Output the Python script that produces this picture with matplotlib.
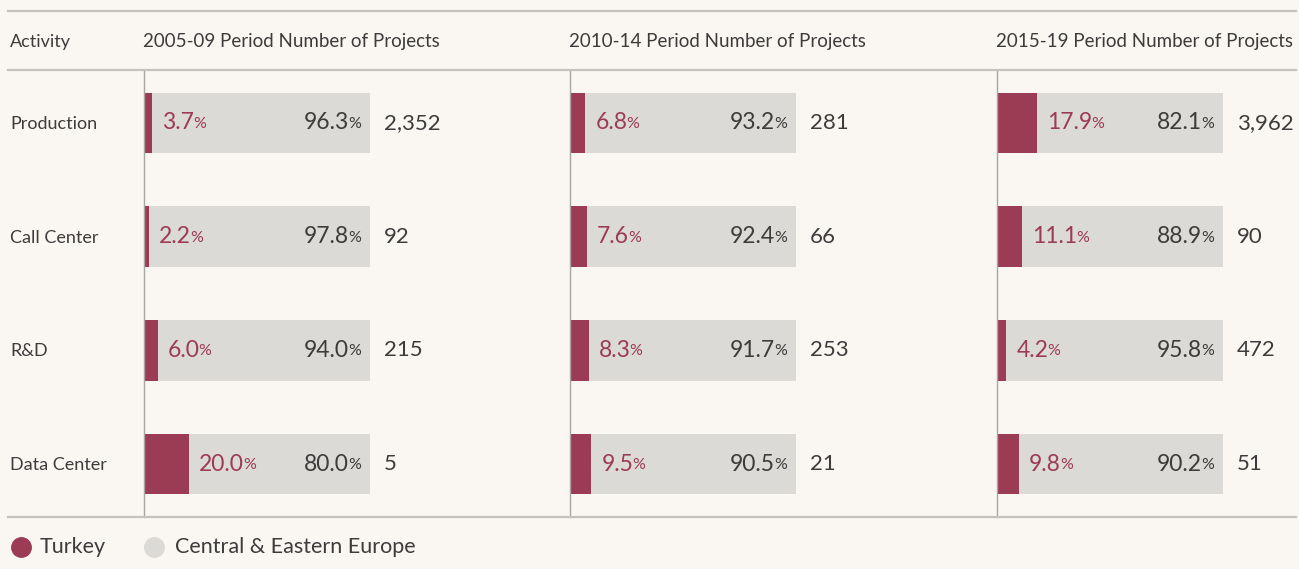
import matplotlib.pyplot as plt
from matplotlib.lines import Line2D

# 데이터
activities = ['Production', 'Call Center', 'R&D', 'Data Center']
periods = ['2005-09', '2010-14', '2015-19']
turkey_pct = [
    [3.7, 2.2, 6.0, 20.0],
    [6.8, 7.6, 8.3, 9.5],
    [17.9, 11.1, 4.2, 9.8],
]
projects = [
    ['2,352', '92', '215', '5'],
    ['281', '66', '253', '21'],
    ['3,962', '90', '472', '51'],
]

bg = '#FAF6F1'
red = '#9C3B54'
grey = '#DBDAD6'
dark = '#3C3C3C'
plt.rcParams['font.family'] = ['Lato', 'DejaVu Sans']

W, H = 1299, 569
fig = plt.figure(figsize=(W / 100, H / 100), dpi=100, facecolor=bg)
renderer = fig.canvas.get_renderer()


def px(x0, y0, w, h):
    return [x0 / W, 1 - (y0 + h) / H, w / W, h / H]


# 가로선
for y in [11, 70, 517]:
    fig.add_artist(Line2D([8 / W, 1296 / W], [1 - y / H, 1 - y / H],
                          color='#C4C2BE', lw=1.6, transform=fig.transFigure))

fig.text(10 / W, 1 - 42 / H, 'Activity', fontsize=13, color=dark, va='center')
for i, a in enumerate(activities):
    fig.text(10 / W, 1 - (124 + i * 113.7) / H, a, fontsize=13, color=dark, va='center')

pct_fs = 16.5
small_fs = 11.5
tmp = fig.text(0, 0, '%', fontsize=small_fs)
w_pct = tmp.get_window_extent(renderer=renderer).width
tmp.remove()

panel_x = [143, 569, 996]
for p in range(3):
    ax = fig.add_axes(px(panel_x[p] + 1, 70, 226, 447))
    ax.set_facecolor('none')
    fig.text(panel_x[p] / W, 1 - 42 / H, periods[p] + ' Period Number of Projects',
             fontsize=13.5, color=dark, va='center')
    ys = list(range(len(activities)))
    tk = turkey_pct[p]
    cee = [round(100 - v, 1) for v in tk]
    ax.barh(ys, tk, height=0.536, color=red)
    ax.barh(ys, cee, left=tk, height=0.536, color=grey)
    ax.set_xlim(0, 100)
    ax.set_ylim(3.466, -0.466)
    for s in ['top', 'right', 'bottom']:
        ax.spines[s].set_visible(False)
    ax.spines['left'].set_color('#A8A6A2')
    ax.spines['left'].set_linewidth(1)
    ax.set_xticks([])
    ax.set_yticks([])

    for i in ys:
        # 터키 비율 라벨
        t = ax.annotate(f'{tk[i]:.1f}', (tk[i], i), xytext=(10, 0), textcoords='offset pixels',
                        fontsize=pct_fs, color=red, ha='left', va='center',
                        annotation_clip=False)
        wn = t.get_window_extent(renderer=renderer).width
        ax.annotate('%', (tk[i], i), xytext=(10 + wn - 1, -1), textcoords='offset pixels',
                    fontsize=small_fs, color=red, ha='left', va='center',
                    annotation_clip=False)
        # 중동부 유럽 비율 라벨
        ax.annotate('%', (100, i), xytext=(-9, -1), textcoords='offset pixels',
                    fontsize=small_fs, color=dark, ha='right', va='center',
                    annotation_clip=False)
        ax.annotate(f'{cee[i]:.1f}', (100, i), xytext=(-9 - w_pct + 1, 0),
                    textcoords='offset pixels', fontsize=pct_fs, color=dark,
                    ha='right', va='center', annotation_clip=False)
        # 프로젝트 수
        ax.annotate(projects[p][i], (100, i), xytext=(14, 0), textcoords='offset pixels',
                    fontsize=16, color=dark, ha='left', va='center',
                    annotation_clip=False)

# 범례
ly = 1 - 547 / H
for cx, tx, col, lab in [(21, 40, red, 'Turkey'), (154, 175, grey, 'Central & Eastern Europe')]:
    fig.add_artist(Line2D([cx / W], [ly], marker='o', markersize=14, color=col,
                          transform=fig.transFigure))
    fig.text(tx / W, ly, lab, fontsize=15.5, color=dark, va='center')

fig.savefig('out.png', dpi=100, facecolor=bg)
